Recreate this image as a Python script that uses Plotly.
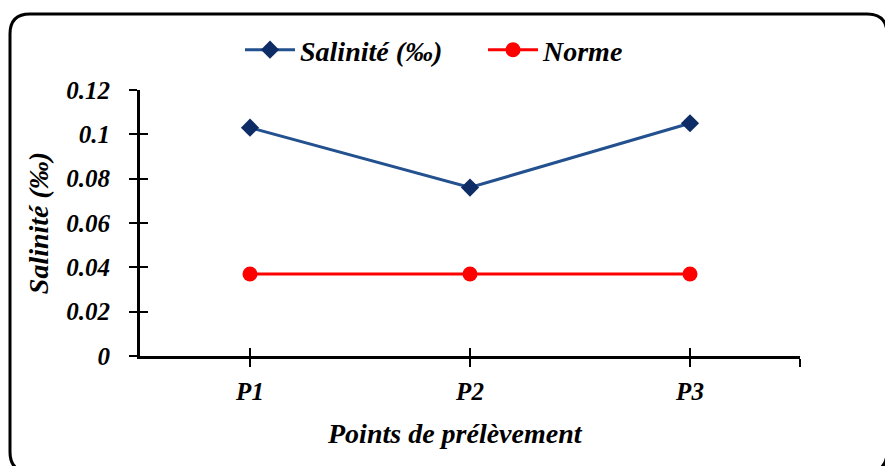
import plotly.graph_objects as go

# Sampling points and measured values
points = ["P1", "P2", "P3"]
salinite = [0.103, 0.076, 0.105]
norme = [0.037, 0.037, 0.037]
y_ticks = [0, 0.02, 0.04, 0.06, 0.08, 0.1, 0.12]

FONT = "Liberation Serif"
W, H = 885, 466
ML, MR, MT, MB = 140, 85, 90, 110
PW, PH = W - ML - MR, H - MT - MB

xpos = list(range(len(points)))

fig = go.Figure()
fig.add_trace(go.Scatter(
    x=xpos, y=salinite, name="Salinité (‰)", mode="lines+markers",
    line=dict(color="#23508E", width=3),
    marker=dict(symbol="diamond", size=14, color="#0E2C66",
                line=dict(color="#0E2C66", width=0)),
))
fig.add_trace(go.Scatter(
    x=xpos, y=norme, name="Norme", mode="lines+markers",
    line=dict(color="#FF0000", width=3),
    marker=dict(symbol="circle", size=15, color="#FF0000"),
))

tick_font = dict(family=FONT, size=25, color="black", weight="bold", style="italic")
title_font = dict(family=FONT, size=28, color="black", weight="bold", style="italic")

# Category axis: ticks at each point plus one at the right end
xticks = xpos + [len(points) - 0.5]
xlabels = points + [""]
common_x = dict(range=[-0.5, len(points) - 0.5], tickvals=xticks,
                showgrid=False, zeroline=False, tickwidth=2, tickcolor="black")
common_y = dict(range=[0, 0.12], tickvals=y_ticks, showgrid=False,
                zeroline=False, tickwidth=2, tickcolor="black")

fig.update_layout(
    width=W, height=H,
    margin=dict(l=ML, r=MR, t=MT, b=MB),
    paper_bgcolor="white", plot_bgcolor="white",
    showlegend=True,
    legend=dict(
        orientation="h", x=(240 - ML) / PW, xanchor="left",
        y=(H - MB - 50) / PH, yanchor="middle",
        font=title_font, entrywidth=178, entrywidthmode="pixels",
        bgcolor="rgba(0,0,0,0)", itemwidth=50,
    ),
    xaxis=dict(
        **common_x, ticktext=xlabels, ticks="outside", ticklen=8,
        showline=True, linecolor="black", linewidth=3,
        tickfont=tick_font, ticklabelstandoff=3,
    ),
    yaxis=dict(
        **common_y, ticks="outside", ticklen=8,
        showline=True, linecolor="black", linewidth=3,
        tickfont=tick_font, ticklabelstandoff=14,
        title=dict(text="Salinité (‰)", font=title_font, standoff=10),
    ),
    # Mirror axes carrying the inner half of the crossing tick marks
    xaxis2=dict(**common_x, overlaying="x", side="bottom", ticks="inside",
                ticklen=8, showticklabels=False, showline=False,
                anchor="y"),
    yaxis2=dict(**common_y, overlaying="y", side="left", ticks="inside",
                ticklen=8, showticklabels=False, showline=False,
                anchor="x"),
)

# Invisible trace so the mirror axes are rendered
fig.add_trace(go.Scatter(x=[None], y=[None], xaxis="x2", yaxis="y2",
                         showlegend=False, hoverinfo="skip"))


def px_x(px):
    return (px - ML) / PW


def px_y(py):
    return (H - MB - py) / PH


# X-axis title, placed as an annotation below the tick labels
fig.add_annotation(text="Points de prélèvement", xref="paper", yref="paper",
                   x=px_x(455), y=px_y(433), xanchor="center", yanchor="middle",
                   showarrow=False, font=title_font)

# Rounded frame around the whole chart
left, right, top, bottom, r = 10, 887, 14, 472, 20
L, R, T, B = px_x(left), px_x(right), px_y(top), px_y(bottom)
rx, ry = r / PW, r / PH
path = (
    f"M {L + rx},{T} L {R - rx},{T} Q {R},{T} {R},{T - ry} "
    f"L {R},{B + ry} Q {R},{B} {R - rx},{B} "
    f"L {L + rx},{B} Q {L},{B} {L},{B + ry} "
    f"L {L},{T - ry} Q {L},{T} {L + rx},{T} Z"
)
fig.add_shape(type="path", path=path, xref="paper", yref="paper",
              line=dict(color="black", width=3), layer="below")

fig.write_html("out.html")
